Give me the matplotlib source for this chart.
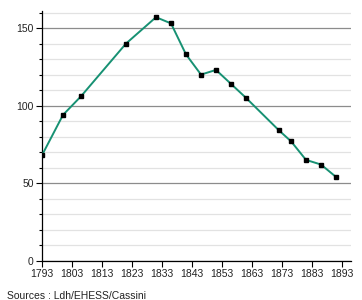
import matplotlib
matplotlib.use("Agg")
import matplotlib.pyplot as plt
from matplotlib.ticker import MultipleLocator

years = [1793, 1800, 1806, 1821, 1831, 1836, 1841, 1846, 1851, 1856,
         1861, 1872, 1876, 1881, 1886, 1891]
population = [68, 94, 106, 140, 157, 153, 133, 120, 123, 114,
              105, 84, 77, 65, 62, 54]
x_ticks = list(range(1793, 1894, 10))
y_ticks = [0, 50, 100, 150]

plt.rcParams["font.family"] = ["Liberation Sans", "DejaVu Sans"]

fig = plt.figure(figsize=(3.62, 3.0), dpi=100)
ax = fig.add_axes([42 / 362, 39.3 / 300, 309 / 362, 249.7 / 300])

ax.plot(years, population, color="#179173", linewidth=1.4, zorder=3)
ax.plot(years, population, linestyle="none", marker="s", markersize=3.5,
        color="black", zorder=4)

ax.set_xlim(1793, 1896)
ax.set_ylim(0, 161)
ax.set_xticks(x_ticks)
ax.set_yticks(y_ticks)
ax.yaxis.set_minor_locator(MultipleLocator(10))

ax.grid(True, which="major", axis="y", color="#8c8c8c", linewidth=0.9)
ax.grid(True, which="minor", axis="y", color="#e2e2e2", linewidth=0.9)
ax.set_axisbelow(True)

for side in ("top", "right"):
    ax.spines[side].set_visible(False)
for side in ("left", "bottom"):
    ax.spines[side].set_color("black")
    ax.spines[side].set_linewidth(0.9)

ax.tick_params(axis="both", which="major", direction="out", length=4,
               width=0.8, labelsize=7.5, labelcolor="#222222", pad=2)
ax.tick_params(axis="y", which="minor", direction="out", length=2.5, width=0.8)

fig.text(7 / 362, 1 - 296 / 300, "Sources : Ldh/EHESS/Cassini", fontsize=7.5,
         color="#222222", va="center", ha="left")

fig.savefig("out.png", dpi=100)
